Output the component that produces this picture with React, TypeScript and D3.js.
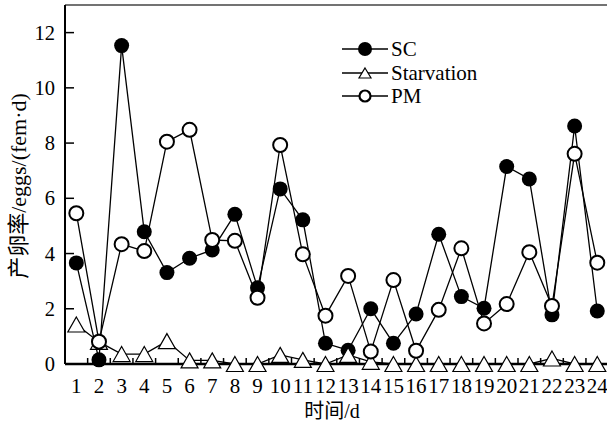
import React from "react";
import * as d3 from "d3";

const days = d3.range(1, 25);
const scValues = [3.66, 0.15, 11.53, 4.79, 3.31, 3.83, 4.13, 5.42, 2.76, 6.34, 5.22, 0.75, 0.5, 2.0, 0.75, 1.81, 4.7, 2.44, 2.02, 7.15, 6.7, 1.78, 8.62, 1.92];
const starvationValues = [1.43, 0.8, 0.36, 0.36, 0.83, 0.13, 0.13, 0.0, 0.0, 0.33, 0.15, 0.0, 0.33, 0.08, 0.0, 0.0, 0.0, 0.0, 0.0, 0.0, 0.0, 0.2, 0.0, 0.0];
const pmValues = [5.46, 0.81, 4.34, 4.09, 8.05, 8.48, 4.49, 4.46, 2.4, 7.93, 3.97, 1.75, 3.19, 0.45, 3.04, 0.48, 1.96, 4.19, 1.47, 2.17, 4.05, 2.1, 7.61, 3.67];
const yTicks = [0, 2, 4, 6, 8, 10, 12];
const seriesNames = ["SC", "Starvation", "PM"];
const xTitle = "时间/d";
const yTitle = "产卵率/eggs/(fem·d)";

const W = 607, H = 424;
const m = { left: 65, top: 5, bottom: 364, right: 608.6 };
const font = "'Liberation Serif', 'Times New Roman', 'Noto Sans CJK SC', serif";

export default function App() {
  const x = d3.scaleLinear().domain([0.5, 24.5]).range([m.left, m.right]);
  const y = d3.scaleLinear().domain([0, 13]).range([m.bottom, m.top]);
  const line = (vals: number[]) =>
    d3.line<number>().x((_, i) => x(days[i])).y((v) => y(v))(vals) || "";

  // triangle with bbox centered on (cx, cy)
  const tri = (cx: number, cy: number, hw = 8.5, hh = 7.5) =>
    `M${cx},${cy - hh} L${cx + hw},${cy + hh} L${cx - hw},${cy + hh} Z`;

  const halfTicks = d3.range(1.5, 24.5, 1);

  const legendX = 342, legendY = [49, 73, 96];

  return (
    <svg width={W} height={H} style={{ position: "absolute", left: 0, top: 0, background: "#fff" }} fontFamily={font}>
      {/* frame */}
      <line x1={m.left} x2={W} y1={m.top} y2={m.top} stroke="#444" strokeWidth={1.5} />
      <line x1={m.left} x2={m.left} y1={m.top} y2={m.bottom} stroke="#000" strokeWidth={2} />
      <line x1={m.left} x2={W} y1={m.bottom} y2={m.bottom} stroke="#000" strokeWidth={2.5} />
      {yTicks.map((t) => (
        <g key={t}>
          <line x1={m.left} x2={m.left + 9} y1={y(t)} y2={y(t)} stroke="#000" strokeWidth={1.5} />
          <text x={55} y={y(t)} dy="0.35em" textAnchor="end" fontSize={20.5}>{t}</text>
        </g>
      ))}
      {halfTicks.map((t) => (
        <line key={t} x1={x(t)} x2={x(t)} y1={m.bottom} y2={m.bottom - 6} stroke="#000" strokeWidth={1.5} />
      ))}
      {days.map((d) => (
        <text key={d} x={x(d)} y={393} textAnchor="middle" fontSize={21}>{d}</text>
      ))}
      <text x={332} y={418} textAnchor="middle" fontSize={20}>{xTitle}</text>
      <text transform={`translate(26,186) rotate(-90)`} textAnchor="middle" fontSize={22}>{yTitle}</text>

      {/* SC */}
      <path d={line(scValues)} fill="none" stroke="#000" strokeWidth={1.3} />
      {scValues.map((v, i) => (
        <circle key={i} cx={x(days[i])} cy={y(v)} r={7.5} fill="#000" />
      ))}
      {/* Starvation */}
      <path d={line(starvationValues)} fill="none" stroke="#000" strokeWidth={1.3} />
      {starvationValues.map((v, i) => (
        <path key={i} d={tri(x(days[i]), y(v))} fill="#fff" stroke="#000" strokeWidth={1.2} />
      ))}
      {/* PM */}
      <path d={line(pmValues)} fill="none" stroke="#000" strokeWidth={1.3} />
      {pmValues.map((v, i) => (
        <circle key={i} cx={x(days[i])} cy={y(v)} r={7} fill="#fff" stroke="#000" strokeWidth={2} />
      ))}

      {/* legend */}
      {seriesNames.map((n, i) => (
        <g key={n}>
          <line x1={legendX} x2={legendX + 46} y1={legendY[i]} y2={legendY[i]} stroke="#000" strokeWidth={1.5} />
          {i === 0 && <circle cx={legendX + 23} cy={legendY[i]} r={7} fill="#000" />}
          {i === 1 && <path d={tri(legendX + 23, legendY[i], 6, 5)} fill="#fff" stroke="#000" strokeWidth={1.2} />}
          {i === 2 && <circle cx={legendX + 23} cy={legendY[i]} r={5.5} fill="#fff" stroke="#000" strokeWidth={2.2} />}
          <text x={legendX + 49} y={legendY[i]} dy="0.35em" fontSize={21}>{n}</text>
        </g>
      ))}
    </svg>
  );
}
